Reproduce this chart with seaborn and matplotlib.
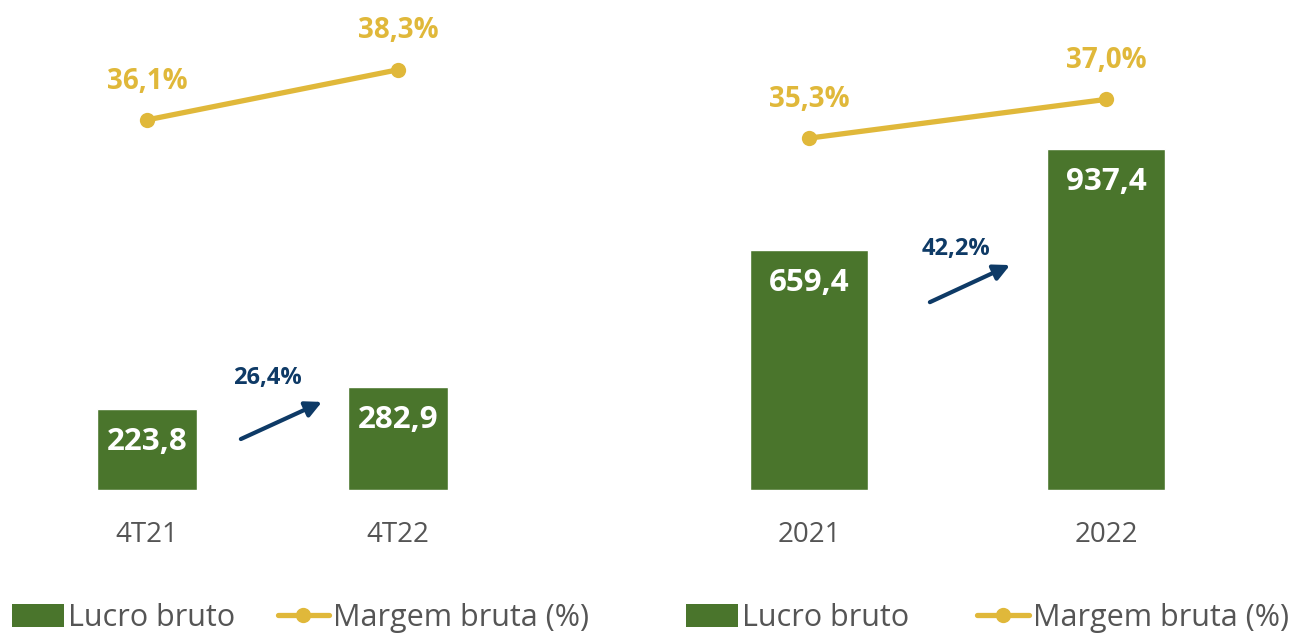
import matplotlib
matplotlib.use("Agg")
import matplotlib.pyplot as plt
import seaborn as sns
import numpy as np
import pandas as pd
from matplotlib.patches import Patch
from matplotlib.lines import Line2D

sns.set_theme(style="white")
plt.rcParams['font.family'] = ['Open Sans', 'DejaVu Sans']

# ---- data ----
left_cats = ["4T21", "4T22"]
left_lucro = [223.8, 282.9]
left_margem = [36.1, 38.3]
left_growth = "26,4%"

right_cats = ["2021", "2022"]
right_lucro = [659.4, 937.4]
right_margem = [35.3, 37.0]
right_growth = "42,2%"

legend_labels = ["Lucro bruto", "Margem bruta (%)"]

GREEN = "#4a752c"
GOLD = "#e0b83a"
NAVY = "#0e3a66"
GRAY = "#555555"

W, H = 1295, 633
fig = plt.figure(figsize=(W / 100, H / 100), dpi=100)

bar_ylim = (0, 480 / 0.364)
line_ylim = ((943 - 490) / 22.8, (943 - 10) / 22.8)


def fmt(v, suffix=""):
    return f"{v:.1f}".replace(".", ",") + suffix


def panel(x0, x1, cats, lucro, margem, growth, arrow_x, arrow_y, label_xy):
    ax = fig.add_axes([x0 / W, (H - 490) / H, (x1 - x0) / W, 480 / H])
    df = pd.DataFrame({"cat": cats, "val": lucro})
    sns.barplot(data=df, x="cat", y="val", color=GREEN, width=0.4,
                saturation=1, ax=ax)
    ax.set_xlim(-0.5, 1.5)
    ax.set_ylim(*bar_ylim)
    for i, v in enumerate(lucro):
        ax.annotate(fmt(v), (i, v), xytext=(0, -24), textcoords="offset points",
                    ha="center", va="center", color="white", fontsize=22.5,
                    fontweight="bold")
    ax.set_xlabel("")
    ax.set_ylabel("")
    ax.set_yticks([])
    ax.tick_params(axis="x", length=0, pad=22, labelsize=20, labelcolor=GRAY)
    for s in ax.spines.values():
        s.set_visible(False)

    ax2 = ax.twinx()
    xs = np.arange(len(margem))
    sns.lineplot(x=xs, y=margem, color=GOLD, linewidth=3.8, marker="o",
                 markersize=11, markeredgewidth=0, ax=ax2)
    ax2.set_ylim(*line_ylim)
    ax2.set_yticks([])
    for s in ax2.spines.values():
        s.set_visible(False)
    for i, v in enumerate(margem):
        ax2.annotate(fmt(v, "%"), (i, v), xytext=(0, 28), textcoords="offset points",
                     ha="center", va="center", color=GOLD, fontsize=20,
                     fontweight="bold")

    ax.annotate("", xy=(arrow_x[1], arrow_y[1]), xytext=(arrow_x[0], arrow_y[0]),
                arrowprops=dict(arrowstyle="-|>,head_length=0.8,head_width=0.4",
                                color=NAVY, lw=3, shrinkA=0, shrinkB=0))
    ax.text(label_xy[0], label_xy[1], growth, ha="center", va="center",
            color=NAVY, fontsize=17, fontweight="bold")
    return ax


panel(21.5, 523.5, left_cats, left_lucro, left_margem, left_growth,
      (0.374, 0.697), (140, 242), (0.478, 308))
panel(660.5, 1254.5, right_cats, right_lucro, right_margem, right_growth,
      (0.407, 0.677), (516, 618), (0.495, 662))

handles = [Patch(facecolor=GREEN, edgecolor="none"),
           Line2D([0], [0], color=GOLD, lw=3.8, marker="o", markersize=11,
                  markeredgewidth=0)]

for x, cs in ((12, 1.4), (686, 2.25)):
    fig.legend(handles, legend_labels, loc="center left",
               bbox_to_anchor=(x / W, (H - 618) / H), ncol=2, frameon=False,
               fontsize=22, labelcolor=GRAY, handlelength=1.7,
               handleheight=0.75, handletextpad=0.12, columnspacing=cs,
               borderpad=0, borderaxespad=0)

fig.savefig("out.png", dpi=100, facecolor="white")
